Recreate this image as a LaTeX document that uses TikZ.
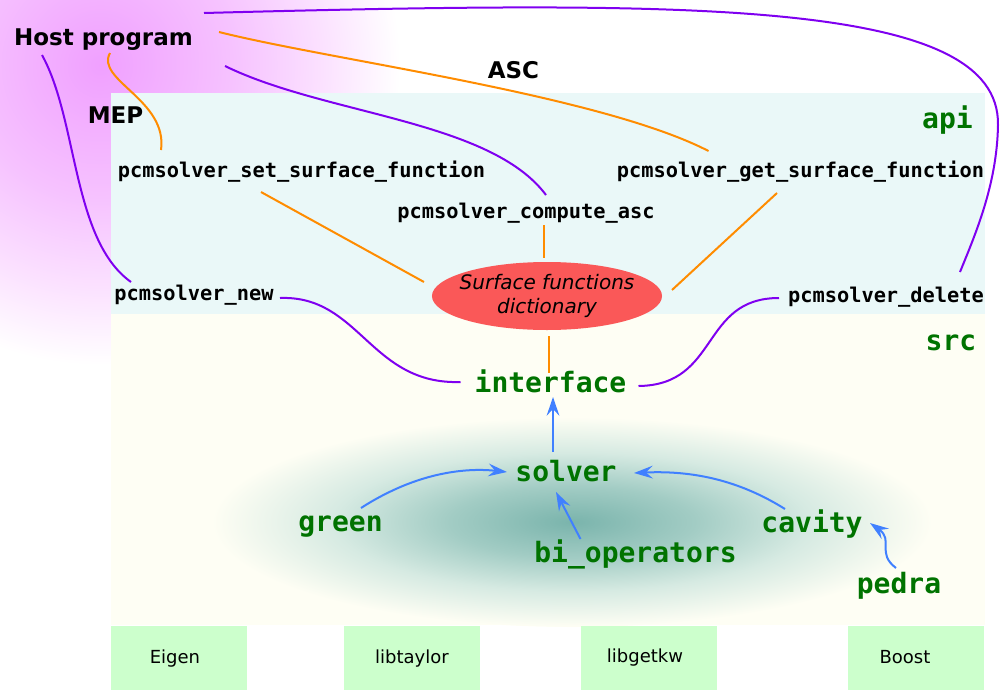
\documentclass[tikz,border=0pt]{standalone}
\usepackage{fontspec}
\setmainfont{DejaVu Sans}
\setmonofont{DejaVu Sans Mono}
\usetikzlibrary{arrows.meta,calc,shapes.geometric}
\definecolor{pinkc}{RGB}{240,160,255}
\definecolor{pinkm}{RGB}{246,194,255}
\definecolor{pinkl}{RGB}{251,225,255}
\definecolor{tealc}{RGB}{122,180,172}
\definecolor{tealm}{RGB}{162,204,196}
\definecolor{teall}{RGB}{214,234,226}
\definecolor{apibg}{RGB}{234,248,248}
\definecolor{srcbg}{RGB}{254,254,244}
\definecolor{libbg}{RGB}{204,255,204}
\definecolor{dictc}{RGB}{250,88,88}
\definecolor{gtext}{RGB}{0,115,0}
\definecolor{purp}{RGB}{127,0,240}
\definecolor{orng}{RGB}{255,140,0}
\definecolor{bluec}{RGB}{64,128,255}
\pgfdeclareradialshading{pinkglow}{\pgfpoint{0bp}{0bp}}{color(0bp)=(pinkc); color(11bp)=(pinkm); color(18.5bp)=(pinkl); color(25bp)=(white); color(50bp)=(white)}
\pgfdeclareradialshading{tealglow}{\pgfpoint{0bp}{0bp}}{color(0bp)=(tealc); color(8.5bp)=(tealm); color(16.5bp)=(teall); color(25bp)=(srcbg); color(50bp)=(srcbg)}
\tikzset{
  hdr/.style={font=\fontsize{17.25}{20}\selectfont\bfseries, text=black, inner sep=0pt, anchor=base},
  fn/.style={font=\fontsize{15.25}{18}\ttfamily\bfseries, text=black, inner sep=0pt, anchor=base},
  mod/.style={font=\fontsize{21}{24}\ttfamily\bfseries, text=gtext, inner sep=0pt, anchor=base},
  libbox/.style={fill=libbg, minimum width=102pt, minimum height=48pt, inner sep=0pt},
  libtext/.style={font=\fontsize{13.5}{16}\selectfont, inner sep=0pt, anchor=base},
  pline/.style={draw=purp, line width=1.5pt},
  oline/.style={draw=orng, line width=1.5pt},
  barrow/.style={draw=bluec, line width=1.5pt, -{Stealth[length=14pt,width=9.5pt,inset=5pt]}},
}
\begin{document}
\begin{tikzpicture}[x=0.75pt,y=-0.75pt]
\useasboundingbox (0,0) rectangle (1000,690);
% glows and regions
\begin{scope}
\clip (0,0) rectangle (1000,690);
\shade[shading=pinkglow] (100,65) circle (300);
\end{scope}
\fill[apibg] (111,93) rectangle (985,314);
\fill[srcbg] (111,314) rectangle (985,625);
\shade[shading=tealglow] (572,522) ellipse [x radius=360, y radius=105];
% libraries
\node[libbox] (eigenbox) at (179,658) {};
\node[libbox] (taylorbox) at (412,658) {};
\node[libbox] (getkwbox) at (649,658) {};
\node[libbox] (boostbox) at (915.5,658) {};
\node[libtext] (eigen) at (175,663) {Eigen};
\node[libtext] (taylor) at (412,663) {libtaylor};
\node[libtext] (getkw) at (645,662) {libgetkw};
\node[libtext] (boost) at (905,663) {Boost};
% labels
\node[hdr] (host) at (103.5,45) {Host program};
\node[hdr] (mep) at (115.5,123) {MEP};
\node[hdr] (asc) at (513.5,78) {ASC};
\node[mod] (api) at (947.5,128) {api};
\node[mod] (src) at (951,350) {src};
\node[fn] (set) at (301.5,177) {pcmsolver\_set\_surface\_function};
\node[fn] (get) at (800.5,177) {pcmsolver\_get\_surface\_function};
\node[fn] (comp) at (526,218) {pcmsolver\_compute\_asc};
\node[fn] (new) at (194,300) {pcmsolver\_new};
\node[fn] (del) at (886,302) {pcmsolver\_delete};
\node[ellipse, fill=dictc, minimum height=51pt, inner xsep=-4.5pt, inner ysep=0pt, align=center,
  font=\fontsize{15}{18}\selectfont\itshape] (dict) at (547,296) {Surface functions\\dictionary};
\node[mod] (iface) at (550.5,392) {interface};
\node[mod] (solver) at (566,481) {solver};
\node[mod] (green) at (340.5,531) {green};
\node[mod] (biop) at (635.5,562) {bi\_operators};
\node[mod] (cavity) at (812,532) {cavity};
\node[mod] (pedra) at (899,593) {pedra};
% purple connectors
\draw[pline] ([shift={(100.5,-32)}]host.base) .. controls (700,0) and (1000,0) .. (998,125)
  .. controls (997,185) and (975,235) .. ([shift={(74,-30)}]del.base);
\draw[pline] ([shift={(-61.5,10)}]host.base) .. controls (78,120) and (72,240) .. ([shift={(-63,-18)}]new.base);
\draw[pline] ([shift={(121.5,21)}]host.base) .. controls (325,115) and (490,120) .. ([shift={(20,-23)}]comp.base);
\draw[pline] ([shift={(86,-2)}]new.base) .. controls (360,295) and (370,385) .. ([shift={(-90,-10)}]iface.base);
\draw[pline] ([shift={(88,-6)}]iface.base) .. controls (720,385) and (700,298) .. ([shift={(-107,-4)}]del.base);
% orange connectors
\draw[oline] ([shift={(6.5,8)}]host.base) .. controls (95,80) and (168,100) .. ([shift={(-140.5,-27)}]set.base);
\draw[oline] ([shift={(115.5,-13)}]host.base) .. controls (330,60) and (600,95) .. ([shift={(-92,-26)}]get.base);
\draw[oline] ([shift={(-40.5,15)}]set.base) -- ($(dict.center)+(-123,-14)$);
\draw[oline] ([shift={(-23.5,16)}]get.base) -- ($(dict.center)+(125,-6)$);
\draw[oline] ([shift={(17.5,7)}]comp.base) -- ($(dict.center)+(-3.5,-38)$);
\draw[oline] ($(dict.center)+(2,40)$) -- ([shift={(-1.5,-19)}]iface.base);
% blue arrows
\draw[barrow] ([shift={(-13,-29)}]solver.base) -- ([shift={(2.5,5)}]iface.base);
\draw[barrow] ([shift={(20.5,-23)}]green.base) .. controls (420,470) and (470,468) .. ([shift={(-59,-9)}]solver.base);
\draw[barrow] ([shift={(-27,-23)}]cavity.base) .. controls (745,484) and (700,470) .. ([shift={(68,-8)}]solver.base);
\draw[barrow] ([shift={(-55,-23)}]biop.base) -- ([shift={(-10,11)}]solver.base);
\draw[barrow] ([shift={(-3,-25)}]pedra.base) .. controls (876,553) and (894,540) .. ([shift={(58,-9)}]cavity.base);
\end{tikzpicture}
\end{document}
